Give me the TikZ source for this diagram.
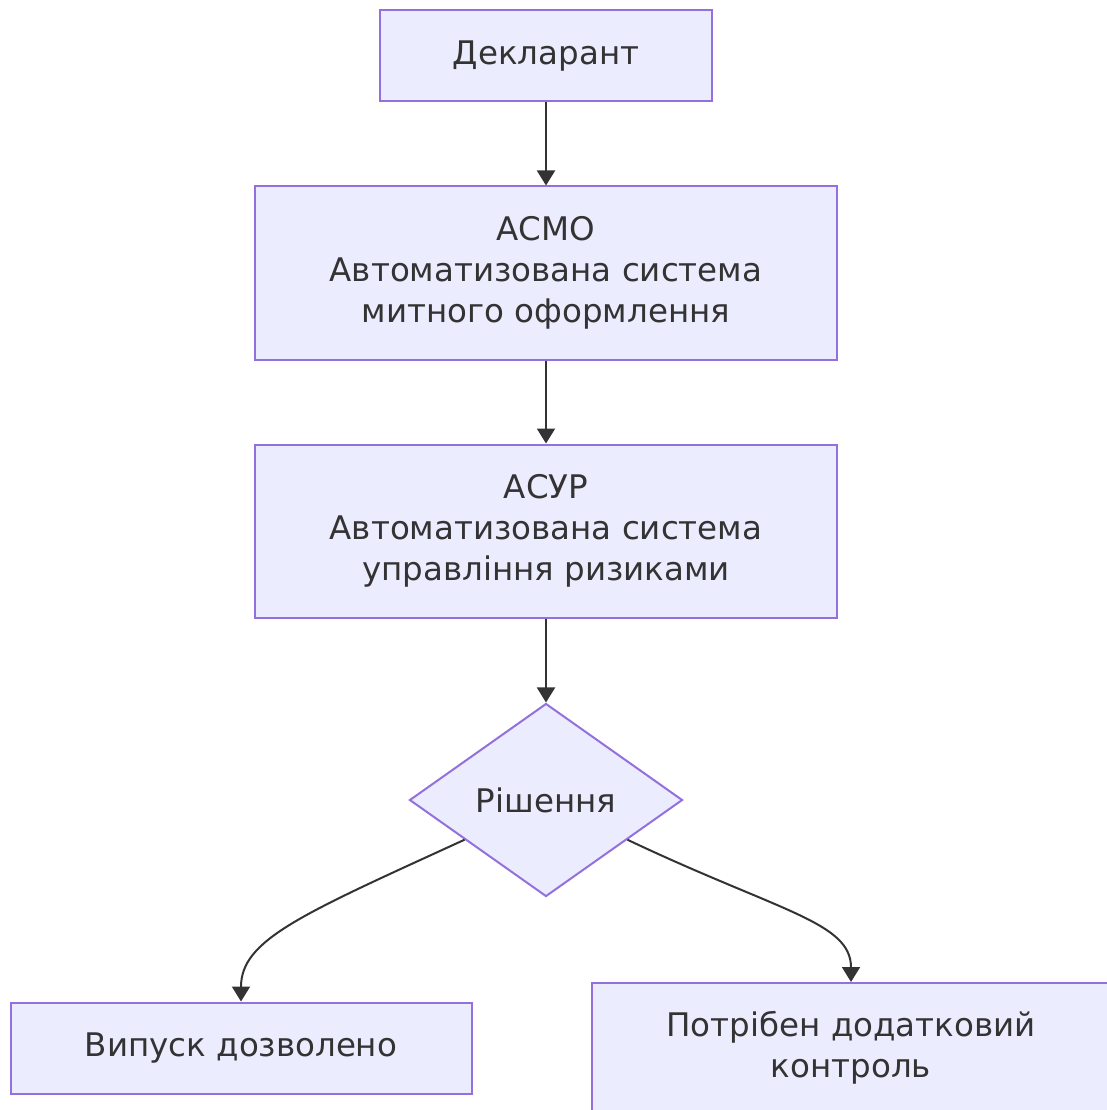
\documentclass[tikz,border=0pt]{standalone}
\usepackage{fontspec}
\setmainfont{DejaVu Sans}
\usetikzlibrary{shapes.geometric,arrows.meta}
\definecolor{nodefill}{HTML}{ECECFF}
\definecolor{nodeline}{HTML}{9370DB}
\definecolor{ink}{HTML}{333333}
\begin{document}
\begin{tikzpicture}[x=1pt,y=-1pt,
  box/.style={draw=nodeline,fill=nodefill,line width=2pt,text=ink,
    align=center,inner sep=0pt,font=\fontsize{32.5}{41}\selectfont},
  decision/.style={diamond,draw=nodeline,fill=nodefill,line width=2pt,text=ink,
    inner sep=0pt,aspect=1.41,minimum width=273pt,minimum height=193pt,
    font=\fontsize{32.5}{41}\selectfont},
  flow/.style={draw=ink,line width=2pt,-{Triangle[width=18pt,length=15pt]}}]
\useasboundingbox (0,0) rectangle (1107,1110);
\clip (0,0) rectangle (1107,1110);

\node[box,minimum width=332pt,minimum height=91pt] (decl) at (546,56) {Декларант};
\node[box,minimum width=582pt,minimum height=173pt] (asmo) at (546,273)
  {АСМО\\Автоматизована система\\митного оформлення};
\node[box,minimum width=582pt,minimum height=173pt] (asur) at (546,531)
  {АСУР\\Автоматизована система\\управління ризиками};
\node[decision] (dec) at (546,800) {Рішення};
\node[box,minimum width=461pt,minimum height=91pt] (ok) at (241,1048) {Випуск дозволено};
\node[box,minimum width=518pt,minimum height=130pt] (ctrl) at (851,1048)
  {Потрібен додатковий\\контроль};

\draw[flow] (decl) -- (asmo);
\draw[flow] (asmo) -- (asur);
\draw[flow] (asur) -- (dec);
\draw[flow] (dec.206) .. controls (300,915) and (241,940) .. (ok.north);
\draw[flow] (dec.334) .. controls (780,912) and (851,922) .. (ctrl.north);
\end{tikzpicture}
\end{document}
